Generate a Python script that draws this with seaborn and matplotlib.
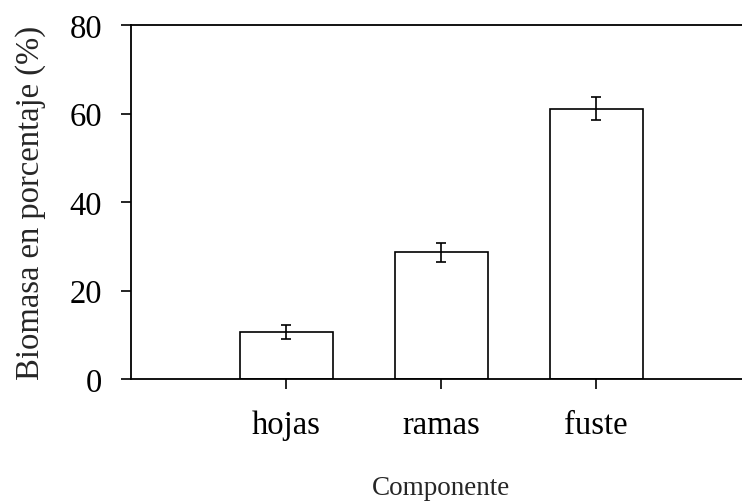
import matplotlib
matplotlib.use("Agg")
import matplotlib.pyplot as plt
import seaborn as sns
import pandas as pd

categorias = ["hojas", "ramas", "fuste"]
valores = [10.6, 28.6, 61.1]
errores = [1.5, 2.2, 2.65]
yticks = [0, 20, 40, 60, 80]

sns.set_style("ticks")
plt.rcParams["font.family"] = ["Liberation Serif", "DejaVu Serif"]

df = pd.DataFrame({"Componente": categorias, "valor": valores})

fig = plt.figure(figsize=(7.42, 5.02), dpi=100)
W, H = 742, 502
ax = fig.add_axes([131 / W, (H - 380) / H, 620 / W, 354 / H])

sns.barplot(data=df, x="Componente", y="valor", order=categorias, ax=ax,
            color="white", edgecolor="black", linewidth=1.2, width=0.6,
            errorbar=None, saturation=1)
ax.errorbar(range(len(categorias)), valores, yerr=errores, fmt="none",
            ecolor="black", elinewidth=1.2, capsize=3.8, capthick=1.2)

ax.set_xlim(-1, 3)
ax.set_ylim(0, 80)
ax.set_yticks(yticks)
ax.set_yticklabels([str(v) for v in yticks])

for s in ["left", "bottom", "top", "right"]:
    ax.spines[s].set_linewidth(1.3)
    ax.spines[s].set_color("black")

ax.tick_params(axis="both", direction="out", length=7.2, width=1.2,
               labelsize=23.5, colors="black")
ax.tick_params(axis="y", pad=13.5)
ax.tick_params(axis="x", pad=15)

ax.set_xlabel("Componente", fontsize=19.5, labelpad=25)
ax.set_ylabel("Biomasa en porcentaje (%)", fontsize=23.5, labelpad=17)

fig.savefig("out.png", dpi=100)
